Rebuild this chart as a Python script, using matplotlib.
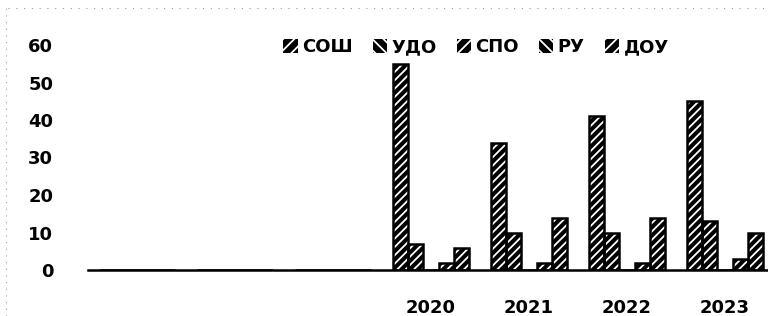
import matplotlib
matplotlib.use("Agg")
import matplotlib.pyplot as plt
import numpy as np
from matplotlib.lines import Line2D
from matplotlib.patches import Patch

categories = ["", "", "", "2020", "2021", "2022", "2023"]
series = ["СОШ", "УДО", "СПО", "РУ", "ДОУ"]
values = {
    "СОШ": [0, 0, 0, 55, 34, 41, 45],
    "УДО": [0, 0, 0, 7, 10, 10, 13],
    "СПО": [0, 0, 0, 0, 0, 0, 0],
    "РУ":  [0, 0, 0, 2, 2, 2, 3],
    "ДОУ": [0, 0, 0, 6, 14, 14, 10],
}
yticks = [0, 10, 20, 30, 40, 50, 60]

plt.rcParams['font.family'] = ['DejaVu Sans']
plt.rcParams['hatch.linewidth'] = 1.3

fig = plt.figure(figsize=(7.68, 3.16), dpi=100)
W, H = 768, 316
ax_left, ax_right = 88, 768
y0, y60 = 270, 45
ax = fig.add_axes([ax_left / W, (H - y0) / H, (ax_right - ax_left) / W, (y0 - y60) / H])

spacing = 98.0
ncat = (ax_right - ax_left) / spacing
x = np.arange(len(categories))
bw = 0.155
hatches = ['////', '////', '////', '////', '////']
handles = []
for i, s in enumerate(series):
    offs = (i - 2) * bw
    ax.bar(x + offs, values[s], width=bw, facecolor='black', edgecolor='white',
           linewidth=0, hatch=hatches[i], zorder=2)
    ax.bar(x + offs, values[s], width=bw, fill=False, edgecolor='black',
           linewidth=1.8, zorder=2.5)
    handles.append(Patch(facecolor='black', edgecolor='white', linewidth=0,
                         hatch='\\\\\\' if i % 2 else '///', label=s))

ax.set_xlim(-0.5, -0.5 + ncat)
ax.set_ylim(0, 60)
ax.set_yticks(yticks)
ax.set_yticklabels([str(v) for v in yticks], fontsize=13, fontweight='bold')
ax.set_xticks(x)
ax.set_xticklabels(categories, fontsize=13, fontweight='bold')
ax.tick_params(axis='y', length=0, pad=25)
ax.tick_params(axis='x', length=0, pad=21)
for sp in ['top', 'right', 'left']:
    ax.spines[sp].set_visible(False)
ax.spines['bottom'].set_linewidth(1.8)
ax.spines['bottom'].set_zorder(3)

leg = fig.legend(handles=handles, loc='center', bbox_to_anchor=(476 / W, 1 - 47 / H),
                 ncol=5, frameon=False, handlelength=0.8, handleheight=0.8,
                 handletextpad=0.25, columnspacing=1.1,
                 prop={'size': 13, 'weight': 'bold'})

# faint scanned border traces
fig.add_artist(Line2D([0.01, 1.0], [1 - 8 / H, 1 - 8 / H], color='#999999', lw=0.8,
                      linestyle=(0, (1, 6)), transform=fig.transFigure))
fig.add_artist(Line2D([6 / W, 6 / W], [0.0, 1 - 8 / H], color='#999999', lw=0.8,
                      linestyle=(0, (1, 5)), transform=fig.transFigure))

fig.savefig("out.png", dpi=100)
